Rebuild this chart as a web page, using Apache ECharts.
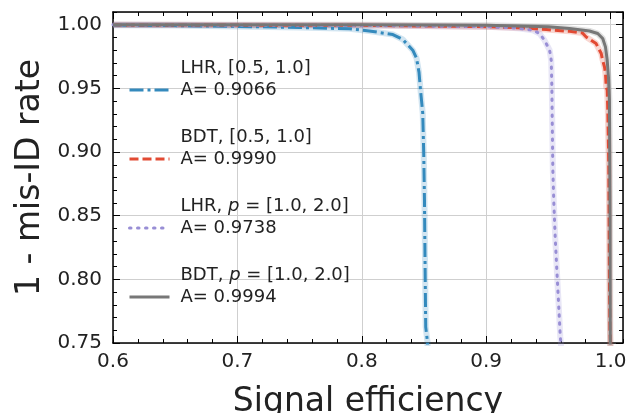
<!DOCTYPE html>
<html>
<head>
<meta charset="utf-8">
<script src="https://cdn.jsdelivr.net/npm/echarts@6/dist/echarts.min.js"></script>
<style>
  html, body { margin: 0; padding: 0; background: #fff; }
  #chart { width: 629px; height: 413px; }
</style>
</head>
<body>
<div id="chart"></div>
<script>
// ROC curves: signal efficiency vs 1 - mis-ID rate
const xTicks = [0.6, 0.7, 0.8, 0.9, 1.0]
const yTicks = [0.75, 0.8, 0.85, 0.9, 0.95, 1.0]

const lhrLowX = [0.600, 0.650, 0.700, 0.750, 0.790, 0.806, 0.825, 0.833, 0.841, 0.844, 0.846, 0.847, 0.848, 0.849, 0.8498, 0.8504, 0.8509, 0.8514, 0.8528, 0.8530]
const lhrLowY = [0.9996, 0.9993, 0.9987, 0.9978, 0.9968, 0.9951, 0.9923, 0.9884, 0.9800, 0.9737, 0.9627, 0.9512, 0.9407, 0.9305, 0.8991, 0.8622, 0.8097, 0.7626, 0.7510, 0.7450]

const bdtLowX = [0.600, 0.800, 0.900, 0.930, 0.9483, 0.967, 0.9774, 0.9804, 0.9884, 0.9897, 0.9925, 0.9933, 0.9951, 0.9959, 0.9965, 0.9973, 0.9978, 0.9986, 0.9991, 0.9995, 1.0]
const bdtLowY = [0.9999, 0.9995, 0.9985, 0.9975, 0.9962, 0.9948, 0.9935, 0.9904, 0.9852, 0.9826, 0.9774, 0.9735, 0.9669, 0.9619, 0.9512, 0.9486, 0.9329, 0.8884, 0.8000, 0.7600, 0.7450]

const lhrHighX = [0.600, 0.800, 0.900, 0.920, 0.927, 0.9376, 0.9429, 0.9469, 0.951, 0.9523, 0.9528, 0.9531, 0.9536, 0.9544, 0.9555, 0.9568, 0.9582, 0.9596, 0.9600, 0.9602]
const lhrHighY = [0.9999, 0.9994, 0.9985, 0.9976, 0.9970, 0.9957, 0.9931, 0.9878, 0.9800, 0.9721, 0.9512, 0.9250, 0.8858, 0.8599, 0.8332, 0.8073, 0.7814, 0.7547, 0.7510, 0.7450]

const bdtHighX = [0.600, 0.800, 0.900, 0.950, 0.967, 0.9831, 0.9897, 0.9937, 0.9959, 0.9973, 0.9983, 0.9991, 0.9996, 0.9998]
const bdtHighY = [1.0, 0.9999, 0.9995, 0.9985, 0.9970, 0.9951, 0.9931, 0.9892, 0.9826, 0.9721, 0.9590, 0.9407, 0.8500, 0.7450]

const names = ['LHR, [0.5, 1.0]', 'BDT, [0.5, 1.0]', 'LHR, p = [1.0, 2.0]', 'BDT, p = [1.0, 2.0]']
const areas = ['0.9066', '0.9990', '0.9738', '0.9994']
const colors = ['#348ABD', '#E24A33', '#988ED5', '#777777']

const font = 'DejaVu Sans'
const zip = (xs, ys) => xs.map((x, i) => [x, ys[i]])
const curves = [zip(lhrLowX, lhrLowY), zip(bdtLowX, bdtLowY), zip(lhrHighX, lhrHighY), zip(bdtHighX, bdtHighY)]
const dashes = [[14, 4, 3, 4], [9, 4], [1.5, 6.5], 'solid']
const widths = [3, 3, 3, 3]

const chart = echarts.init(document.getElementById('chart'), null, { renderer: 'canvas' })

function frameAxis(pos, isX, major) {
  const ax = {
    type: 'value',
    position: pos,
    min: isX ? 0.6 : 0.75,
    max: 1.01,
    interval: major ? (isX ? 0.1 : 0.05) : (isX ? 0.02 : 0.01),
    axisLine: { show: major, lineStyle: { color: '#000', width: 1.5 } },
    axisTick: { show: true, inside: true, length: major ? 7 : 4, lineStyle: { color: '#000', width: 1 } },
    axisLabel: { show: false },
    splitLine: { show: false }
  }
  return ax
}

const xMain = Object.assign(frameAxis('bottom', true, true), {
  name: 'Signal efficiency',
  nameLocation: 'middle',
  nameGap: 43,
  nameTextStyle: { fontFamily: font, fontSize: 33, color: '#222' },
  axisLabel: {
    show: true, showMaxLabel: false, margin: 9,
    fontFamily: font, fontSize: 20, color: '#222',
    formatter: v => v.toFixed(1)
  },
  splitLine: { show: true, lineStyle: { color: '#cfcfcf', width: 1 } }
})

const yMain = Object.assign(frameAxis('left', false, true), {
  name: '1 - mis-ID rate',
  nameLocation: 'middle',
  nameGap: 66,
  nameTextStyle: { fontFamily: font, fontSize: 33, color: '#222' },
  axisLabel: {
    show: true, showMaxLabel: false, margin: 11,
    fontFamily: font, fontSize: 20, color: '#222',
    formatter: v => v.toFixed(2)
  },
  splitLine: { show: true, lineStyle: { color: '#cfcfcf', width: 1 } }
})

const series = []
// pale band under each curve
curves.forEach((d, i) => {
  series.push({
    name: 'band' + i,
    type: 'line',
    data: d,
    symbol: 'none',
    silent: true,
    clip: true,
    lineStyle: { color: colors[i], width: 6, opacity: 0.22 },
    z: 2
  })
})
curves.forEach((d, i) => {
  series.push({
    name: names[i],
    type: 'line',
    data: d,
    symbol: 'none',
    clip: true,
    lineStyle: { color: colors[i], width: widths[i], type: dashes[i], cap: i === 2 ? 'round' : 'butt' },
    itemStyle: { color: colors[i] },
    z: 3 + i
  })
})

const option = {
  animation: false,
  backgroundColor: '#fff',
  grid: { left: 113, right: 6, top: 12, bottom: 70, containLabel: false, outerBoundsMode: 'none' },
  xAxis: [xMain, frameAxis('bottom', true, false), frameAxis('top', true, true), frameAxis('top', true, false)],
  yAxis: [yMain, frameAxis('left', false, false), frameAxis('right', false, true), frameAxis('right', false, false)],
  legend: {
    orient: 'vertical',
    left: 128,
    top: 57,
    padding: 0,
    itemWidth: 40,
    itemHeight: 12,
    itemGap: 3,
    data: names,
    itemStyle: { opacity: 0 },
    lineStyle: { width: 3 },
    formatter: name => {
      const i = names.indexOf(name)
      const head = name.replace('p = ', '{i|p} = ')
      return head + '\nA= ' + areas[i] + '\n '
    },
    textStyle: {
      fontFamily: font, fontSize: 18, lineHeight: 22, color: '#222',
      padding: [0, 0, 0, 6],
      rich: { i: { fontFamily: font, fontSize: 18, lineHeight: 22, fontStyle: 'italic', color: '#222' } }
    }
  },
  series: series
}

chart.setOption(option)
</script>
</body>
</html>
